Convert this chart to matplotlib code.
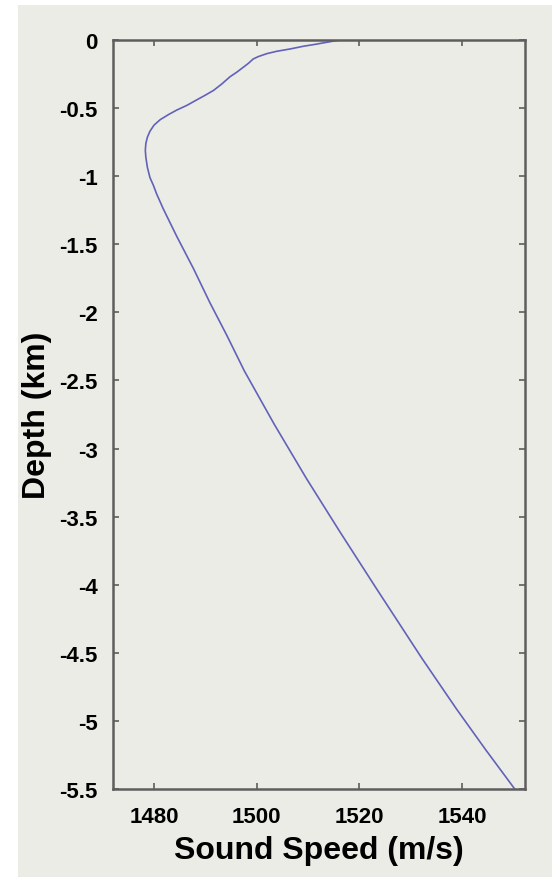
import numpy as np
import matplotlib
matplotlib.use("Agg")
import matplotlib.pyplot as plt
from matplotlib.patches import Rectangle

# sound speed profile (m/s vs km)
speed = [1516.2, 1513.9, 1511.7, 1509.1, 1506.5, 1503.9, 1502.0, 1500.3,
         1499.3, 1498.4, 1497.4, 1496.1, 1494.8, 1493.2, 1491.6, 1490.0,
         1488.3, 1486.4, 1484.4, 1482.8, 1481.2, 1480.0, 1479.2, 1478.7,
         1478.4, 1478.3, 1478.4, 1478.7, 1479.2, 1479.9, 1480.5, 1481.8,
         1484.4, 1487.7, 1490.9, 1494.2, 1497.6, 1503.4, 1509.7, 1516.2,
         1523.2, 1532.2, 1538.9, 1544.6, 1550.3]
depth = [0.0, -0.015, -0.03, -0.046, -0.066, -0.083, -0.10, -0.122,
         -0.14, -0.171, -0.20, -0.237, -0.27, -0.323, -0.37, -0.405,
         -0.44, -0.48, -0.515, -0.548, -0.585, -0.625, -0.67, -0.714,
         -0.76, -0.81, -0.86, -0.935, -1.01, -1.07, -1.13, -1.24,
         -1.44, -1.68, -1.93, -2.17, -2.43, -2.82, -3.22, -3.61,
         -4.02, -4.54, -4.91, -5.21, -5.50]

x_ticks = [1480, 1500, 1520, 1540]
y_ticks = [0, -0.5, -1, -1.5, -2, -2.5, -3, -3.5, -4, -4.5, -5, -5.5]
y_labels = ["0", "-0.5", "-1", "-1.5", "-2", "-2.5", "-3", "-3.5",
            "-4", "-4.5", "-5", "-5.5"]

bg = "#ebece6"
plt.rcParams["font.family"] = ["Liberation Sans", "DejaVu Sans"]

fig = plt.figure(figsize=(5.52, 8.78), dpi=100, facecolor="white")
# grey panel like the original screenshot
fig.patches.append(Rectangle((18 / 552, 0), 1 - 18 / 552, 1 - 6 / 878,
                             transform=fig.transFigure, facecolor=bg,
                             edgecolor="none", zorder=-10))

ax = fig.add_axes([113 / 552, 88 / 878, 412 / 552, 749 / 878])
ax.set_facecolor(bg)
ax.plot(speed, depth, color="#6262b8", lw=1.2, solid_joinstyle="round")

ax.set_xlim(1472, 1552.3)
ax.set_ylim(-5.5, 0)
ax.set_xticks(x_ticks)
ax.set_xticklabels([str(t) for t in x_ticks])
ax.set_yticks(y_ticks)
ax.set_yticklabels(y_labels)

for s in ax.spines.values():
    s.set_color("#5e5e5e")
    s.set_linewidth(1.8)

ax.tick_params(direction="in", length=4, width=1.2, color="#5e5e5e",
               top=True, right=True, labelsize=16, labelcolor="black")
ax.tick_params(axis="x", pad=12)
ax.tick_params(axis="y", pad=11)
for lab in ax.get_xticklabels() + ax.get_yticklabels():
    lab.set_fontweight("bold")

ax.set_xlabel("Sound Speed (m/s)", fontsize=23, fontweight="bold", labelpad=6)
ax.set_ylabel("Depth (km)", fontsize=23, fontweight="bold", va="center")
ax.yaxis.set_label_coords(-0.185, 0.5)

fig.savefig("out.png", dpi=100, facecolor="white")
